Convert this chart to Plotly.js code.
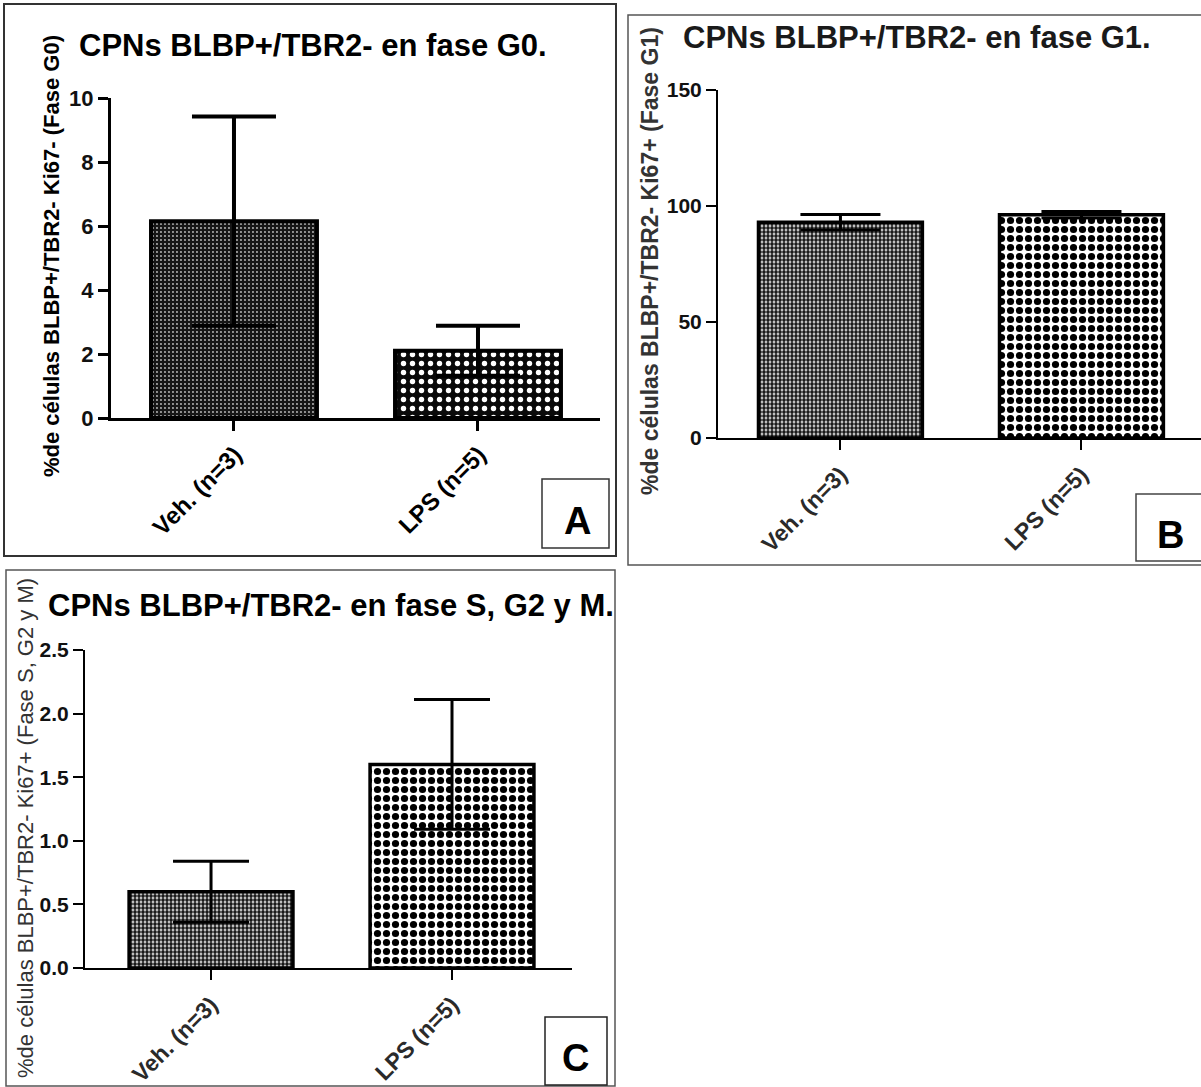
<!DOCTYPE html>
<html><head><meta charset="utf-8">
<script src="https://cdn.plot.ly/plotly-3.0.1.min.js"></script>
<style>html,body{margin:0;padding:0;background:#fff}#chart{width:1201px;height:1087px}</style>
</head><body><div id="chart"></div>
<script>
// ---- data ----
const categories = ["Veh. (n=3)", "LPS (n=5)"];
const g0Mean = [6.15, 2.10];
const g0Err = [3.27, 0.78];
const g1Mean = [93.0, 96.2];
const g1Err = [3.3, 1.4];
const sg2mMean = [0.60, 1.60];
const sg2mErr = [0.24, 0.51];
const panelTitles = ["CPNs BLBP+/TBR2- en fase G0.", "CPNs BLBP+/TBR2- en fase G1.", "CPNs BLBP+/TBR2- en fase S, G2 y M."];
const yTitles = ["%de células BLBP+/TBR2- Ki67- (Fase G0)", "%de células BLBP+/TBR2- Ki67+ (Fase G1)", "%de células BLBP+/TBR2- Ki67+ (Fase S, G2 y M)"];
const panelLetters = ["A", "B", "C"];
const yTicksA = [0, 2, 4, 6, 8, 10];
const yTicksB = [0, 50, 100, 150];
const yTicksC = [0, 0.5, 1.0, 1.5, 2.0, 2.5];
const yTickTextC = ["0.0", "0.5", "1.0", "1.5", "2.0", "2.5"];

// ---- helpers ----
const W = 1201, H = 1087;
const px = v => v / W;
const py = v => 1 - v / H;
const FONT = "Liberation Sans, Arial, Helvetica, sans-serif";

function bar(xa, ya, y, err, pat, lw, ew, cap) {
  return {
    type: "bar", x: categories, y: y, xaxis: xa, yaxis: ya, width: 0.68,
    marker: { color: "#fff", line: { color: "#000", width: lw }, pattern: pat },
    error_y: { type: "data", array: err, visible: true, color: "#000", thickness: ew, width: cap },
    hoverinfo: "x+y", showlegend: false
  };
}

const data = [
  bar("x", "y", g0Mean, g0Err, {
    shape: [".", "."], fillmode: "replace",
    bgcolor: ["#161616", "#0a0a0a"], fgcolor: ["#bdbdbd", "#ffffff"],
    size: [4, 9], solidity: [0.18, 0.28]
  }, 4, 4, 42),
  bar("x2", "y2", g1Mean, g1Err, {
    shape: [".", "."], fillmode: "replace",
    bgcolor: ["#ffffff", "#ffffff"], fgcolor: ["#1a1a1a", "#000000"],
    size: [4, 9], solidity: [0.7, 0.5]
  }, 3.5, 3, 40),
  bar("x3", "y3", sg2mMean, sg2mErr, {
    shape: [".", "."], fillmode: "replace",
    bgcolor: ["#ffffff", "#ffffff"], fgcolor: ["#1a1a1a", "#000000"],
    size: [4, 9], solidity: [0.7, 0.5]
  }, 3.5, 3, 38)
];

function xAxis(dom, rng, lw, fs, color, shift, standoff) {
  return {
    domain: dom, range: rng, type: "category", showline: true, linecolor: "#000", linewidth: lw,
    ticks: "outside", ticklen: 10, tickwidth: lw, tickcolor: "#000", showgrid: false, zeroline: false,
    tickangle: -45, ticklabelshift: shift, ticklabelstandoff: standoff,
    tickfont: { family: FONT, size: fs, color: color, weight: "bold" }, fixedrange: true
  };
}
function yAxis(dom, rng, tv, tt, lw, fs, anchor) {
  return {
    domain: dom, range: rng, tickvals: tv, ticktext: tt, showline: true, linecolor: "#000", linewidth: lw,
    ticks: "outside", ticklen: 10, tickwidth: lw, tickcolor: "#000", showgrid: false, zeroline: false,
    tickfont: { family: FONT, size: fs, color: "#111", weight: "bold" }, anchor: anchor, fixedrange: true
  };
}

const layout = {
  width: W, height: H, margin: { l: 0, r: 0, t: 0, b: 0 },
  paper_bgcolor: "#fff", plot_bgcolor: "rgba(0,0,0,0)", showlegend: false,
  xaxis: xAxis([px(111), px(600)], [-0.504, 1.5], 3, 24, "#000", 1, 0),
  yaxis: yAxis([py(418), py(98)], [0, 10], yTicksA, yTicksA.map(String), 3, 22, "x"),
  xaxis2: Object.assign(xAxis([px(718), 1], [-0.508, 1.496], 2, 23, "#2a2a2a", 0, 2), { anchor: "y2" }),
  yaxis2: yAxis([py(438), py(90)], [0, 150], yTicksB, yTicksB.map(String), 2, 21, "x2"),
  xaxis3: Object.assign(xAxis([px(85), px(572)], [-0.523, 1.498], 2, 23, "#2a2a2a", 0, 2), { anchor: "y3" }),
  yaxis3: yAxis([py(968), py(650)], [0, 2.5], yTicksC, yTickTextC, 2, 21, "x3"),
  shapes: [
    // panel frames
    { type: "rect", xref: "paper", yref: "paper", x0: px(4), x1: px(616), y0: py(556), y1: py(4), line: { color: "#333", width: 2 } },
    { type: "rect", xref: "paper", yref: "paper", x0: px(628), x1: px(1203), y0: py(565), y1: py(15), line: { color: "#555", width: 1.5 } },
    { type: "rect", xref: "paper", yref: "paper", x0: px(6), x1: px(615), y0: py(1086), y1: py(570), line: { color: "#555", width: 1.5 } },
    // letter boxes
    { type: "rect", xref: "paper", yref: "paper", x0: px(542), x1: px(609), y0: py(548), y1: py(479), line: { color: "#333", width: 1.5 } },
    { type: "rect", xref: "paper", yref: "paper", x0: px(1136), x1: px(1203), y0: py(561), y1: py(494), line: { color: "#444", width: 1.5 } },
    { type: "rect", xref: "paper", yref: "paper", x0: px(545), x1: px(607), y0: py(1085), y1: py(1017), line: { color: "#222", width: 1.5 } }
  ],
  annotations: [
    { text: panelTitles[0], x: px(313), y: py(46), xref: "paper", yref: "paper", showarrow: false, xanchor: "center", yanchor: "middle", font: { family: FONT, size: 31, color: "#000", weight: "bold" } },
    { text: panelTitles[1], x: px(917), y: py(37), xref: "paper", yref: "paper", showarrow: false, xanchor: "center", yanchor: "middle", font: { family: FONT, size: 31, color: "#1a1a1a", weight: "bold" } },
    { text: panelTitles[2], x: px(331), y: py(605), xref: "paper", yref: "paper", showarrow: false, xanchor: "center", yanchor: "middle", font: { family: FONT, size: 31, color: "#000", weight: "bold" } },
    { text: yTitles[0], x: px(52), y: py(256), xref: "paper", yref: "paper", showarrow: false, textangle: -90, xanchor: "center", yanchor: "middle", font: { family: FONT, size: 22, color: "#000", weight: "bold" } },
    { text: yTitles[1], x: px(650), y: py(261), xref: "paper", yref: "paper", showarrow: false, textangle: -90, xanchor: "center", yanchor: "middle", font: { family: FONT, size: 23, color: "#333", weight: "bold" } },
    { text: yTitles[2], x: px(25), y: py(828), xref: "paper", yref: "paper", showarrow: false, textangle: -90, xanchor: "center", yanchor: "middle", font: { family: FONT, size: 22, color: "#333", weight: "normal" } },
    { text: panelLetters[0], x: px(577), y: py(521), xref: "paper", yref: "paper", showarrow: false, xanchor: "center", yanchor: "middle", font: { family: FONT, size: 38, color: "#000", weight: "bold" } },
    { text: panelLetters[1], x: px(1170), y: py(535), xref: "paper", yref: "paper", showarrow: false, xanchor: "center", yanchor: "middle", font: { family: FONT, size: 38, color: "#000", weight: "bold" } },
    { text: panelLetters[2], x: px(575), y: py(1058), xref: "paper", yref: "paper", showarrow: false, xanchor: "center", yanchor: "middle", font: { family: FONT, size: 38, color: "#000", weight: "bold" } }
  ]
};

Plotly.newPlot("chart", data, layout, { displayModeBar: false, staticPlot: true });
</script></body></html>
